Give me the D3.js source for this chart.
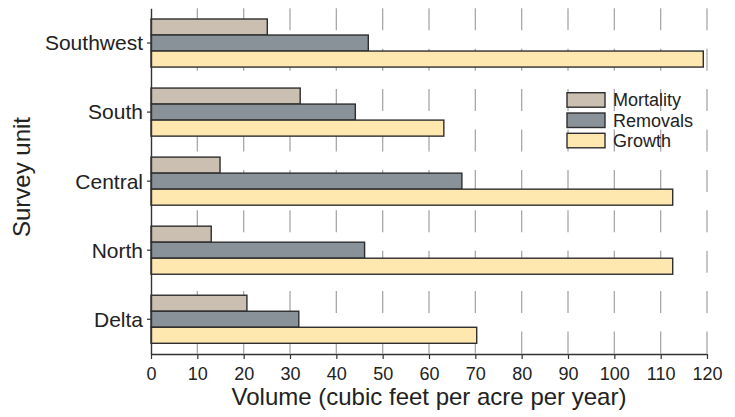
<!DOCTYPE html>
<html>
<head>
<meta charset="utf-8">
<script src="https://cdn.jsdelivr.net/npm/d3@7"></script>
<style>
  html, body { margin: 0; padding: 0; background: #fff; }
  svg { display: block; font-family: "Liberation Sans", Arial, Helvetica, sans-serif; }
</style>
</head>
<body>
<svg id="chart" width="735" height="417"></svg>
<script>
// Data
const categories = ["Southwest", "South", "Central", "North", "Delta"];
const seriesNames = ["Mortality", "Removals", "Growth"];
const mortality = [25.1, 32.2, 14.9, 13.0, 20.7];
const removals  = [46.9, 44.1, 67.1, 46.1, 31.9];
const growth    = [119.2, 63.2, 112.6, 112.6, 70.3];
const xTicks = [0, 10, 20, 30, 40, 50, 60, 70, 80, 90, 100, 110, 120];

(function () {
const colors = { Mortality: "#cbbfb1", Removals: "#8a9299", Growth: "#fee8b0" };
const seriesValues = { Mortality: mortality, Removals: removals, Growth: growth };

const svg = d3.select("#chart");
const mLeft = 151, mRight = 707, mTop = 8.3, mBottom = 354;

const x = d3.scaleLinear().domain([0, 120]).range([mLeft, mRight]);
const y = d3.scaleBand().domain(categories).range([mTop, mBottom])
  .paddingInner(0.304).paddingOuter(0.155);
const ySub = d3.scaleBand().domain(seriesNames).range([0, y.bandwidth()]).padding(0);

// Gridlines (dashed)
svg.append("g")
  .selectAll("line")
  .data(xTicks.filter(d => d > 0))
  .join("line")
  .attr("x1", d => x(d)).attr("x2", d => x(d))
  .attr("y1", mTop).attr("y2", mBottom)
  .attr("stroke", "#a8a8a8")
  .attr("stroke-width", 1.3)
  .attr("stroke-dasharray", "22,18.4");

// Bars
const rows = [];
categories.forEach((c, i) => {
  seriesNames.forEach(s => rows.push({ cat: c, series: s, value: seriesValues[s][i] }));
});
svg.append("g")
  .selectAll("rect")
  .data(rows)
  .join("rect")
  .attr("x", x(0))
  .attr("y", d => y(d.cat) + ySub(d.series))
  .attr("width", d => x(d.value) - x(0))
  .attr("height", ySub.bandwidth())
  .attr("fill", d => colors[d.series])
  .attr("stroke", "#2e2e2e")
  .attr("stroke-width", 1.4);

// X axis
const xAxis = svg.append("g")
  .attr("transform", `translate(0,${mBottom})`)
  .call(d3.axisBottom(x).tickValues(xTicks).tickSize(5).tickPadding(8).tickSizeOuter(0));
xAxis.select(".domain").attr("stroke", "#333").attr("stroke-width", 1.4);
xAxis.selectAll(".tick line").attr("stroke", "#333").attr("stroke-width", 1.2);
xAxis.selectAll(".tick text")
  .attr("font-size", 18)
  .attr("fill", "#222")
  .attr("font-family", "'Liberation Sans', Arial, sans-serif");

// Y axis
const yAxis = svg.append("g")
  .attr("transform", `translate(${mLeft},0)`)
  .call(d3.axisLeft(y).tickSize(4).tickPadding(4).tickSizeOuter(0));
yAxis.select(".domain").attr("stroke", "#333").attr("stroke-width", 1.4);
yAxis.selectAll(".tick line").attr("stroke", "#333").attr("stroke-width", 1.2);
yAxis.selectAll(".tick text")
  .attr("font-size", 21)
  .attr("fill", "#222")
  .attr("dy", "0.35em")
  .attr("font-family", "'Liberation Sans', Arial, sans-serif");

// Axis titles
svg.append("text")
  .attr("x", (mLeft + mRight) / 2)
  .attr("y", 405)
  .attr("text-anchor", "middle")
  .attr("font-size", 24)
  .attr("fill", "#222")
  .text("Volume (cubic feet per acre per year)");

svg.append("text")
  .attr("transform", `translate(30,${177}) rotate(-90)`)
  .attr("text-anchor", "middle")
  .attr("font-size", 24)
  .attr("fill", "#222")
  .text("Survey unit");

// Legend
const legend = svg.append("g").attr("transform", "translate(567,92.7)");
const lg = legend.selectAll("g")
  .data(seriesNames)
  .join("g")
  .attr("transform", (d, i) => `translate(0,${i * 20.3})`);
lg.append("rect")
  .attr("width", 38).attr("height", 14.5)
  .attr("fill", d => colors[d])
  .attr("stroke", "#2e2e2e")
  .attr("stroke-width", 1.4);
lg.append("text")
  .attr("x", 46)
  .attr("y", 7.25)
  .attr("dy", "0.35em")
  .attr("font-size", 18)
  .attr("fill", "#222")
  .text(d => d);
})();
</script>
</body>
</html>
